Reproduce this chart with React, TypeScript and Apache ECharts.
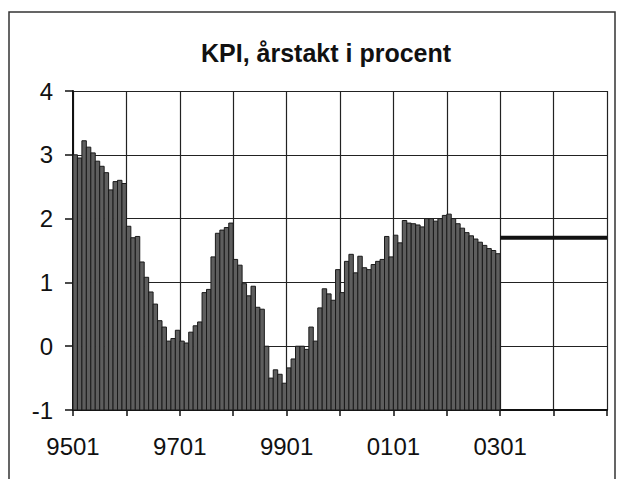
import React, { useEffect, useRef } from "react";
import * as echarts from "echarts";

// Monthly KPI annual rate (percent), Jan 1995 – Dec 2002
const kpi1995 = [3.0, 2.95, 3.22, 3.12, 3.03, 2.9, 2.82, 2.72, 2.45, 2.58, 2.6, 2.55];
const kpi1996 = [1.88, 1.7, 1.72, 1.32, 1.08, 0.85, 0.66, 0.4, 0.3, 0.08, 0.12, 0.25];
const kpi1997 = [0.08, 0.05, 0.22, 0.32, 0.38, 0.84, 0.89, 1.4, 1.77, 1.82, 1.86, 1.93];
const kpi1998 = [1.36, 1.27, 0.98, 0.79, 0.94, 0.61, 0.58, 0.0, -0.5, -0.37, -0.44, -0.58];
const kpi1999 = [-0.34, -0.2, 0.0, 0.0, -0.05, 0.3, 0.08, 0.6, 0.9, 0.82, 0.72, 1.2];
const kpi2000 = [0.84, 1.33, 1.44, 1.15, 1.41, 1.23, 1.2, 1.28, 1.33, 1.36, 1.72, 1.4];
const kpi2001 = [1.74, 1.62, 1.97, 1.93, 1.92, 1.9, 1.87, 2.0, 2.0, 1.96, 2.0, 2.05];
const kpi2002 = [2.07, 2.0, 1.92, 1.85, 1.78, 1.73, 1.68, 1.63, 1.58, 1.53, 1.5, 1.45];

// Target / forecast level from 0301 onwards
const forecastLevel = 1.7;
const forecastStart = 96; // month index of 0301
const axisEnd = 120; // month index of 0501

// X tick labels (month index -> label)
const xTickIndex = [0, 24, 48, 72, 96];
const xTickLabels = ["9501", "9701", "9901", "0101", "0301"];

const TITLE = "KPI, årstakt i procent";
const FONT = "'Liberation Sans', Arial, Helvetica, sans-serif";

export default function App() {
  const ref = useRef<HTMLDivElement>(null);

  useEffect(() => {
    document.body.style.margin = "0";
    if (!ref.current) return;
    const chart = echarts.init(ref.current, undefined, { renderer: "svg" });

    const values = [
      ...kpi1995,
      ...kpi1996,
      ...kpi1997,
      ...kpi1998,
      ...kpi1999,
      ...kpi2000,
      ...kpi2001,
      ...kpi2002,
    ];
    const barData = values.map((v, i) => [i, v]);

    const option: any = {
      animation: false,
      backgroundColor: "#ffffff",
      title: {
        text: TITLE,
        left: 196,
        top: 35,
        textStyle: {
          fontFamily: FONT,
          fontSize: 25,
          fontWeight: "bold",
          color: "#111",
        },
      },
      graphic: [
        {
          type: "rect",
          shape: { x: 9, y: 12, width: 606, height: 490 },
          style: { fill: "none", stroke: "#333", lineWidth: 1.5 },
          silent: true,
          z: 100,
        },
      ],
      grid: { left: 73, right: 17, top: 91, bottom: 69 },
      xAxis: {
        type: "value",
        min: 0,
        max: axisEnd,
        interval: 12,
        axisLine: { show: true, onZero: false, lineStyle: { color: "#111", width: 2 } },
        axisTick: { show: true, length: 6, lineStyle: { color: "#111", width: 1.5 } },
        splitLine: { show: true, lineStyle: { color: "#222", width: 1.2 } },
        axisLabel: {
          margin: 24,
          fontFamily: FONT,
          fontSize: 24,
          color: "#111",
          formatter: (val: number) => {
            const k = xTickIndex.indexOf(Math.round(val));
            return k >= 0 ? xTickLabels[k] : "";
          },
        },
      },
      yAxis: {
        type: "value",
        min: -1,
        max: 4,
        interval: 1,
        axisLine: { show: true, onZero: false, lineStyle: { color: "#111", width: 2 } },
        axisTick: { show: true, length: 8, lineStyle: { color: "#111", width: 1.5 } },
        splitLine: { show: true, lineStyle: { color: "#222", width: 1.2 } },
        axisLabel: {
          margin: 20,
          fontFamily: FONT,
          fontSize: 24,
          color: "#111",
        },
      },
      series: [
        {
          type: "custom",
          data: barData,
          encode: { x: 0, y: 1 },
          renderItem: (params: any, api: any) => {
            const x = api.value(0);
            const v = api.value(1);
            const p0 = api.coord([x, v]);
            const p1 = api.coord([x + 1, -1]);
            return {
              type: "rect",
              shape: {
                x: p0[0],
                y: p0[1],
                width: p1[0] - p0[0],
                height: p1[1] - p0[1],
              },
              style: { fill: "#5e5e5e", stroke: "#1a1a1a", lineWidth: 1 },
            };
          },
          z: 3,
        },
        {
          type: "line",
          data: [
            [forecastStart, forecastLevel],
            [axisEnd, forecastLevel],
          ],
          showSymbol: false,
          symbol: "none",
          lineStyle: { color: "#111", width: 4 },
          z: 4,
        },
      ],
    };

    chart.setOption(option);
    return () => chart.dispose();
  }, []);

  return <div ref={ref} style={{ width: 624, height: 479 }} />;
}
